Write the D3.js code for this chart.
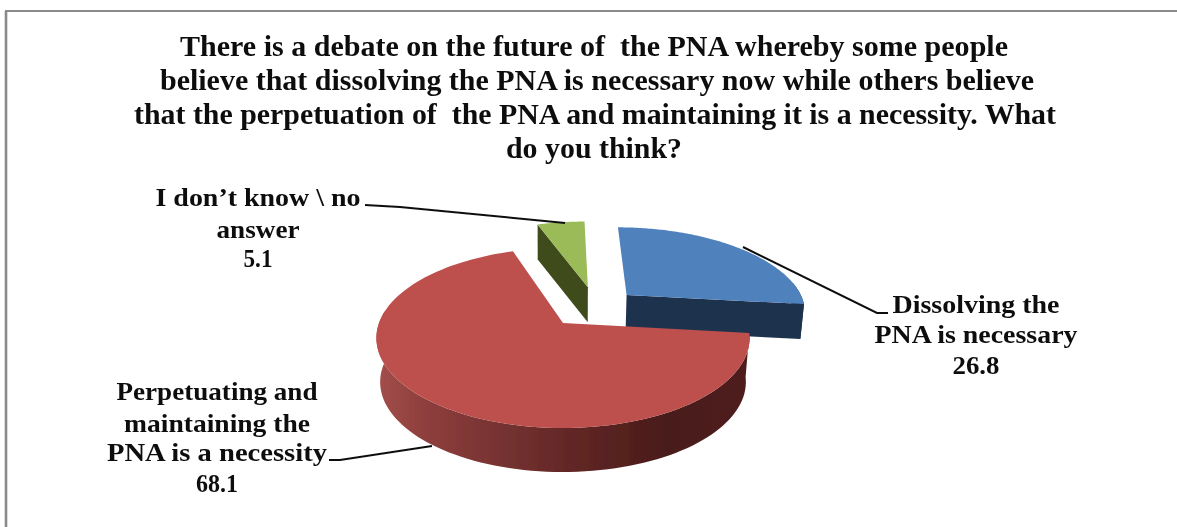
<!DOCTYPE html>
<html><head><meta charset="utf-8">
<script src="https://cdn.jsdelivr.net/npm/d3@7/dist/d3.min.js"></script>
<style>html,body{margin:0;padding:0;background:#fff}svg{display:block}</style>
</head><body><svg id="c" width="1177" height="527"></svg>
<script>
const categories = ["Dissolving the PNA is necessary", "Perpetuating and maintaining the PNA is a necessity", "I don't know \\ no answer"];
const values = [26.8, 68.1, 5.1];
const titleLines = [
  "There is a debate on the future of  the PNA whereby some people",
  "believe that dissolving the PNA is necessary now while others believe",
  "that the perpetuation of  the PNA and maintaining it is a necessity. What",
  "do you think?"];
const labelLines = [
  ["Dissolving the","PNA is necessary","26.8"],
  ["Perpetuating and","maintaining the","PNA is a necessity","68.1"],
  ["I don\u2019t know \\ no","answer","5.1"]];

const svg = d3.select("#c");
const FONT = "'Liberation Serif','Times New Roman',serif";
const defs = svg.append("defs");
defs.append("filter").attr("id","soft").attr("filterUnits","userSpaceOnUse")
  .attr("x",0).attr("y",0).attr("width",1177).attr("height",527)
  .append("feGaussianBlur").attr("stdDeviation",0.6);
const g = svg.append("g").attr("filter","url(#soft)");

// frame
g.append("path").attr("d","M6,527V11H1177").attr("fill","none").attr("stroke","#8a8a8a").attr("stroke-width",2);
g.append("path").attr("d","M6,527V11").attr("fill","none").attr("stroke","#8a8a8a").attr("stroke-width",2.6);

// perspective disc projection
const cx=563, cy=323, R=184, A=87.5, K=1/6;
const project=(u,v,depth,shrink)=>{const s=1/(1-K*v);return [cx+R*shrink*u*s, cy+A*v*s+depth];};

const pie=d3.pie().sort(null).value(d=>d)(values);
const offsets=[{ex:0.365,ey:-0.337,depth:35,shrink:0.985,walls:[false,true]},
               {ex:0,ey:0,depth:44,shrink:0.98,walls:[false,false]},
               {ex:0.145,ey:-0.437,depth:35,shrink:0.995,walls:[true,false]}];
const tops=["#4f81bd","#bd504d","#9bbb59"];
const sides=["#1e324e","url(#redSide)","#3f4c1f"];

const grad=defs.append("linearGradient").attr("id","redSide").attr("gradientUnits","userSpaceOnUse")
  .attr("x1",377).attr("x2",750).attr("y1",0).attr("y2",0);
[[0,"#a34f4c"],[0.12,"#8f3f3d"],[0.35,"#743130"],[0.6,"#5a2321"],[0.78,"#4a1b1a"],[1,"#4f1e1c"]]
 .forEach(([o,c])=>grad.append("stop").attr("offset",o).attr("stop-color",c));

const line=d3.line();
function ring(p,o,depth,shrink,frontOnly,n=120){
  const pts=[];
  for(let i=0;i<=n;i++){
    const t=p.startAngle+(p.endAngle-p.startAngle)*i/n;
    if(frontOnly && Math.cos(t)>K) continue;
    pts.push(project(o.ex+Math.sin(t),o.ey-Math.cos(t),depth,shrink));
  }
  return pts;
}
[2,0,1].forEach(i=>{
  const p=pie[i],o=offsets[i];
  const apexT=project(o.ex,o.ey,0,1), apexB=project(o.ex,o.ey,o.depth,o.shrink);
  const topArc=ring(p,o,0,1,false), botArc=ring(p,o,o.depth,o.shrink,false);
  const wallTop=ring(p,o,0,1,true), wallBot=ring(p,o,o.depth,o.shrink,true);
  const sg=g.append("g");
  if(wallTop.length) sg.append("path").attr("d",line(wallTop.concat(wallBot.slice().reverse()))+"Z").attr("fill",sides[i]);
  const edge=[[topArc[0],botArc[0]],[topArc[topArc.length-1],botArc[botArc.length-1]]];
  edge.forEach(([a,b],k)=>{
    if(o.walls[k]) sg.append("path").attr("d",line([apexT,a,b,apexB])+"Z").attr("fill",sides[i]);
  });
  sg.append("path").attr("d",line([apexT].concat(topArc))+"Z").attr("fill",tops[i]);
});

// leaders
const leaders=[
  [[743,247],[877,313],[888,313]],
  [[432,446],[340,460],[329,460]],
  [[365,205],[400,207],[565,223]]];
leaders.forEach(l=>g.append("path").attr("d",line(l)).attr("fill","none").attr("stroke","#111").attr("stroke-width",2));

// text
const tb=[[594,56,828],[597,90,874],[595,124,922],[594,158,176]];
titleLines.forEach((t,i)=>{
  g.append("text").attr("x",tb[i][0]).attr("y",tb[i][1]).attr("text-anchor","middle").attr("xml:space","preserve")
   .attr("font-family",FONT).attr("font-weight","bold").attr("font-size",29).attr("fill","#111")
   .attr("textLength",tb[i][2]).attr("lengthAdjust","spacingAndGlyphs").text(t);
});
const lb=[
 {x:976,ys:[313,343,374],w:[167,203,47]},
 {x:217,ys:[400,432,461,492],w:[201,186,220,42]},
 {x:258,ys:[206,238,267],w:[205,83,29]}];
labelLines.forEach((ls,i)=>{
  ls.forEach((t,j)=>{
    g.append("text").attr("x",lb[i].x).attr("y",lb[i].ys[j]).attr("text-anchor","middle")
     .attr("font-family",FONT).attr("font-weight","bold").attr("font-size",26).attr("fill","#111")
     .attr("textLength",lb[i].w[j]).attr("lengthAdjust","spacingAndGlyphs").text(t);
  });
});
</script></body></html>
